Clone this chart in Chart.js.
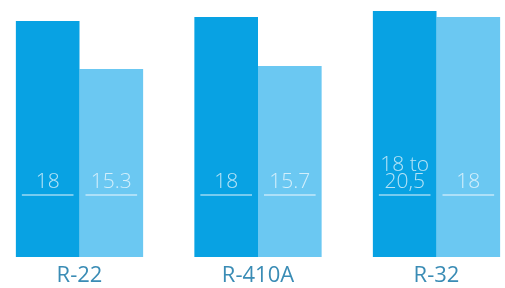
<!DOCTYPE html>
<html>
<head>
<meta charset="utf-8">
<script src="https://cdn.jsdelivr.net/npm/chart.js@4.4.0/dist/chart.umd.min.js"></script>
<style>
  html, body { margin: 0; padding: 0; background: #fff; }
  #wrap { width: 505px; height: 288px; }
</style>
</head>
<body>
<div id="wrap"><canvas id="myChart"></canvas></div>
<script>
// refrigerant groups
const refrigerants = ['R-22', 'R-410A', 'R-32'];

// bar heights as drawn in the picture (relative units, 0 = baseline)
const heightsDark = [236, 240, 246];
const heightsLight = [188, 191, 240];

// value labels printed inside the bars
const labelsDark = [['18'], ['18'], ['18 to', '20,5']];
const labelsLight = [['15.3'], ['15.7'], ['18']];

const darkColor = '#08a2e3';
const lightColor = '#6bc8f2';

// writes the value text + the thin rule under it inside each bar
const barLabels = {
    id: 'barLabels',
    afterDatasetsDraw(chart) {
        const ctx = chart.ctx;
        const bottom = chart.chartArea.bottom;
        const texts = [labelsDark, labelsLight];
        ctx.save();
        chart.data.datasets.forEach((ds, di) => {
            const meta = chart.getDatasetMeta(di);
            meta.data.forEach((bar, i) => {
                const lines = texts[di][i];
                const left = bar.x - bar.width / 2 + 6;
                const right = bar.x + bar.width / 2 - 6;
                ctx.font = '300 21px "Open Sans"';
                ctx.fillStyle = 'rgba(255,255,255,0.7)';
                ctx.textAlign = 'center';
                ctx.textBaseline = 'alphabetic';
                let y = bottom - 69;
                for (let k = lines.length - 1; k >= 0; k--) {
                    ctx.fillText(lines[k], bar.x, y);
                    y -= 17;
                }
                ctx.strokeStyle = 'rgba(255,255,255,0.6)';
                ctx.lineWidth = 1.5;
                ctx.beginPath();
                ctx.moveTo(left, bottom - 62);
                ctx.lineTo(right, bottom - 62);
                ctx.stroke();
            });
        });
        ctx.restore();
    }
};

const data = {
    labels: refrigerants,
    datasets: [
        {
            data: heightsDark,
            backgroundColor: darkColor,
            borderWidth: 0,
            clip: false
        },
        {
            data: heightsLight,
            backgroundColor: lightColor,
            borderWidth: 0,
            clip: false
        }
    ]
};

const config = {
    type: 'bar',
    data: data,
    options: {
        responsive: true,
        maintainAspectRatio: false,
        animation: false,
        layout: {
            padding: { left: 79.5, right: 68.5, top: 0, bottom: 0 }
        },
        datasets: {
            bar: {
                categoryPercentage: 0.713,
                barPercentage: 1
            }
        },
        plugins: {
            legend: { display: false },
            tooltip: { enabled: false }
        },
        scales: {
            x: {
                offset: false,
                grid: { display: false, drawTicks: false },
                border: { display: false },
                ticks: {
                    color: '#3a8cb5',
                    font: { family: '"Open Sans"', size: 22 },
                    padding: 6,
                    maxRotation: 0
                },
                afterFit(scale) { scale.height = 31; }
            },
            y: {
                display: false,
                min: 0,
                max: 257
            }
        }
    },
    plugins: [barLabels]
};

const ctx = document.getElementById('myChart').getContext('2d');
const myChart = new Chart(ctx, config);
</script>
</body>
</html>
